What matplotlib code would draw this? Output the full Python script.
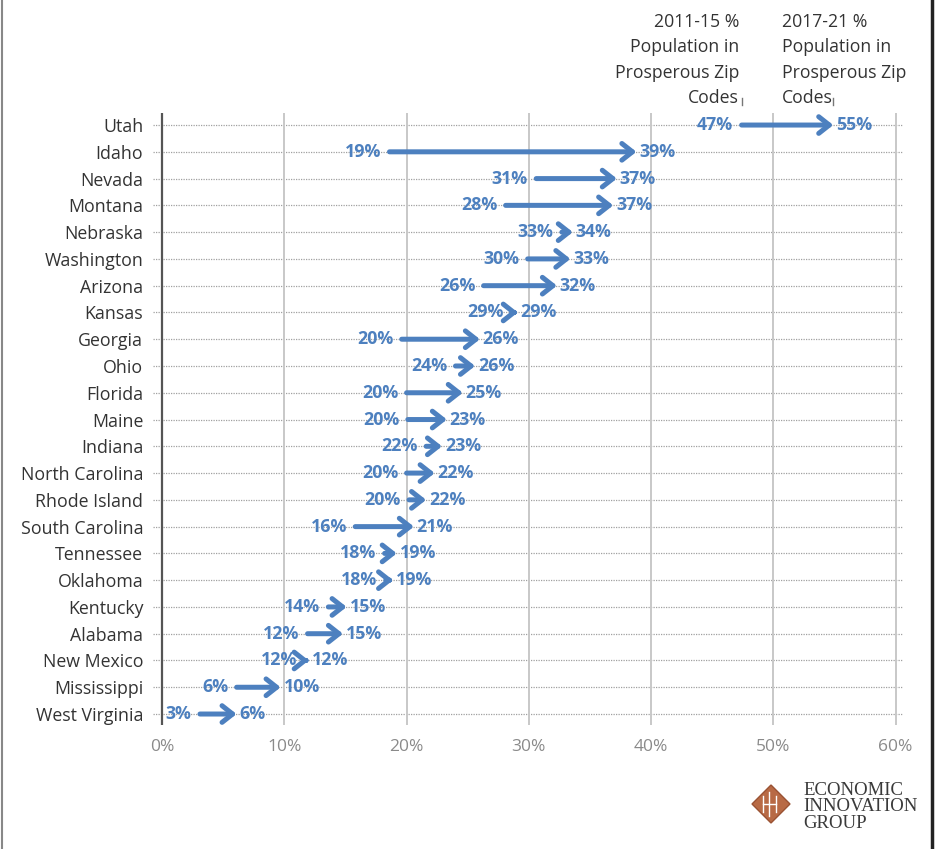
import matplotlib
matplotlib.use("Agg")
import matplotlib.pyplot as plt
from matplotlib.patches import Polygon
from matplotlib.lines import Line2D
from matplotlib.transforms import blended_transform_factory

plt.rcParams["font.family"] = ["Open Sans", "DejaVu Sans"]

# ── Data (percent of population in prosperous zip codes) ─────────────────────
states = ["Utah", "Idaho", "Nevada", "Montana", "Nebraska", "Washington",
          "Arizona", "Kansas", "Georgia", "Ohio", "Florida", "Maine",
          "Indiana", "North Carolina", "Rhode Island", "South Carolina",
          "Tennessee", "Oklahoma", "Kentucky", "Alabama", "New Mexico",
          "Mississippi", "West Virginia"]
pct_2011_15 = [47.4, 18.6, 30.6, 28.1, 32.7, 29.9, 26.3, 28.6, 19.6, 24.0,
               20.0, 20.1, 21.6, 20.0, 20.2, 15.8, 18.2, 18.3, 13.6, 11.9,
               11.7, 6.1, 3.1]
pct_2017_21 = [54.9, 38.8, 37.2, 36.9, 33.6, 33.4, 32.3, 29.1, 26.0, 25.6,
               24.6, 23.3, 22.9, 22.3, 21.6, 20.6, 19.2, 18.9, 15.1, 14.8,
               12.0, 9.7, 6.1]
x_ticks = [0, 10, 20, 30, 40, 50, 60]

BLUE = "#4d80bf"
INK = "#333333"
GRID = "#c8c8c8"

W, H = 940, 849
fig = plt.figure(figsize=(W / 100, H / 100), dpi=100)
ax = fig.add_axes([153 / W, 1 - 725 / H, 750 / W, 612 / H])

n = len(states)
ax.set_xlim(-0.74, 60.6)
ax.set_ylim(n - 1 + 0.41, -0.45)
for s in ax.spines.values():
    s.set_visible(False)

# grid: dotted rows, solid verticals, dark zero line
ax.hlines(range(n), -0.74, 60.6, colors="#a0a0a0", linestyles=(0, (1, 1)),
          linewidth=0.9, zorder=1)
for t in x_ticks[1:]:
    ax.axvline(t, color=GRID, linewidth=1.4, zorder=1)
ax.axvline(0, color="#555555", linewidth=1.6, zorder=2)

ax.set_yticks(range(n))
ax.set_yticklabels(states, fontsize=12.8, color=INK)
ax.set_xticks(x_ticks)
ax.set_xticklabels([f"{t}%" for t in x_ticks], fontsize=12.5, color="#8a8a8a")
ax.tick_params(axis="y", length=0, pad=7)
ax.tick_params(axis="x", length=0, pad=10)

# arrows with value labels
for i, (a, b) in enumerate(zip(pct_2011_15, pct_2017_21)):
    ax.annotate("", xy=(b, i), xytext=(a, i),
                arrowprops=dict(arrowstyle="->,head_length=0.38,head_width=0.3",
                                mutation_scale=20, color=BLUE, lw=3.6,
                                shrinkA=0, shrinkB=0),
                zorder=3)
    ax.annotate(f"{a:.0f}%", xy=(a, i), xytext=(-6, 0),
                textcoords="offset points", ha="right", va="center",
                fontsize=12.8, fontweight="bold", color=BLUE, zorder=4)
    ax.annotate(f"{b:.0f}%", xy=(b, i), xytext=(2, 0),
                textcoords="offset points", ha="left", va="center",
                fontsize=12.8, fontweight="bold", color=BLUE, zorder=4)

# column headers above Utah's arrow
tr = blended_transform_factory(ax.transData, fig.transFigure)
hdr_a = "2011-15 %\nPopulation in\nProsperous Zip\nCodes"
hdr_b = "2017-21 %\nPopulation in\nProsperous Zip\nCodes"
fig.text(739 / W, 1 - 13 / H, hdr_a, ha="right", va="top", fontsize=12.7,
         color=INK, linespacing=1.53)
fig.text(782 / W, 1 - 13 / H, hdr_b, ha="left", va="top", fontsize=12.7,
         color=INK, linespacing=1.53)
for xv in (pct_2011_15[0], pct_2017_21[0]):
    fig.add_artist(Line2D([xv, xv], [1 - 98 / H, 1 - 105 / H], transform=tr,
                          color="#777777", linewidth=1))

# logo
cx, cy, r = 771, 804, 19
fig.add_artist(Polygon([((cx - r) / W, 1 - cy / H), (cx / W, 1 - (cy - r) / H),
                        ((cx + r) / W, 1 - cy / H), (cx / W, 1 - (cy + r) / H)],
                       closed=True, transform=fig.transFigure,
                       facecolor="#b86a45", edgecolor="#9a5233", linewidth=1))
for xs, ys in [([cx - 8, cx - 8], [cy - 8, cy + 8]),
               ([cx - 2, cx - 2], [cy - 12, cy + 12]),
               ([cx + 5, cx + 5], [cy - 8, cy + 8]),
               ([cx - 8, cx + 5], [cy, cy])]:
    fig.add_artist(Line2D([x / W for x in xs], [1 - y / H for y in ys],
                          transform=fig.transFigure, color="white", linewidth=1))
fig.text(803 / W, 1 - 782 / H, "ECONOMIC\nINNOVATION\nGROUP", ha="left",
         va="top", fontsize=13.5, color="#3a3a3a",
         family=["Liberation Serif", "DejaVu Serif"], linespacing=0.95)

# frame edges
fig.add_artist(Line2D([1.5 / W, 1.5 / W], [0, 1], transform=fig.transFigure,
                      color="#888888", linewidth=1.5))
fig.add_artist(Line2D([932 / W, 932 / W], [0, 1], transform=fig.transFigure,
                      color="#222222", linewidth=2.5))

fig.savefig("out.png", dpi=100)
